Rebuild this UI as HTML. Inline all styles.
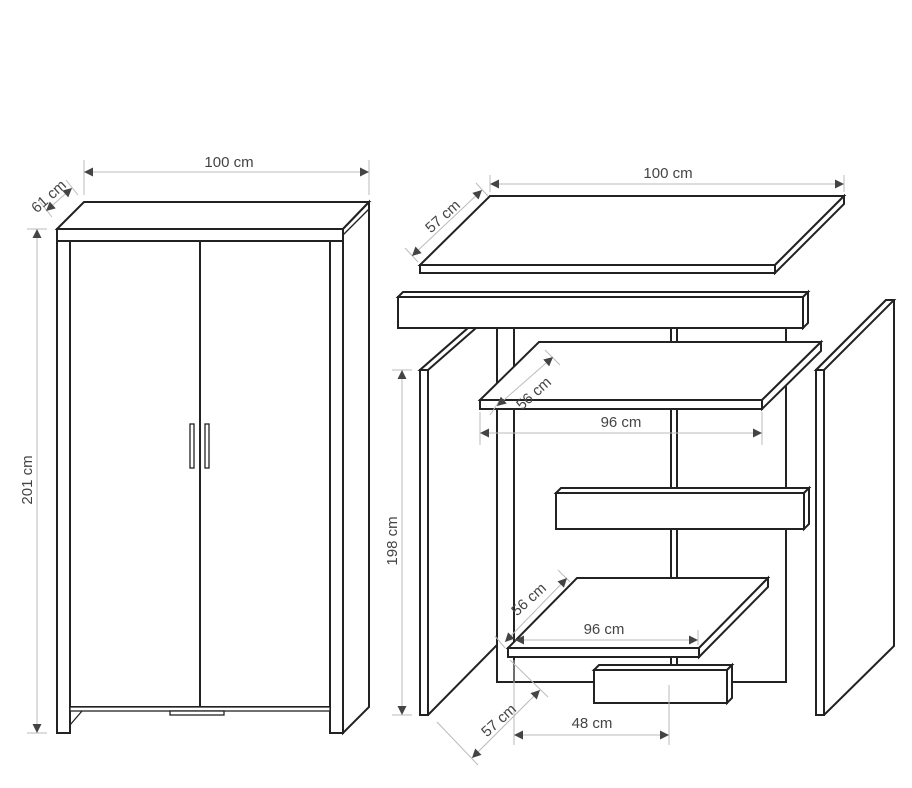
<!DOCTYPE html>
<html><head><meta charset="utf-8"><style>
html,body{margin:0;padding:0;background:#fff;}
svg{display:block;}
text{font-family:"Liberation Sans",Arial,sans-serif;font-size:15px;fill:#444;}
</style></head><body>
<svg width="912" height="788" viewBox="0 0 912 788" xmlns="http://www.w3.org/2000/svg">
<defs>
<marker id="a" viewBox="0 0 10 10" refX="10" refY="5" markerWidth="14" markerHeight="9" markerUnits="userSpaceOnUse" orient="auto-start-reverse">
<path d="M0,0 L10,5 L0,10 z" fill="#444"/></marker>
</defs>
<g fill="#fff" stroke="#222" stroke-width="2" stroke-linejoin="miter">
<!-- LEFT WARDROBE -->
<polygon points="57,229 84,202 369,202 343,229"/>
<polygon points="343,229 369,202 369,707 343,733"/>
<line x1="343" y1="235" x2="369" y2="209" stroke-width="1.3"/>
<rect x="57" y="229" width="286" height="12"/>
<rect x="57" y="241" width="13" height="492"/>
<rect x="330" y="241" width="13" height="492"/>
<rect x="70" y="241" width="260" height="466"/>
<line x1="200" y1="241" x2="200" y2="707"/>
<rect x="70" y="707" width="260" height="4" stroke-width="1.3"/>
<polyline points="70,725 82,711" fill="none" stroke-width="1.3"/>
<rect x="170" y="711" width="54" height="4" stroke-width="1.3"/>
<rect x="190" y="424" width="4" height="44" stroke-width="1.3"/>
<rect x="205" y="424" width="4" height="44" stroke-width="1.3"/>

<!-- RIGHT EXPLODED -->
<!-- back panel -->
<rect x="497" y="328" width="17" height="354"/>
<rect x="514" y="328" width="272" height="354"/>
<rect x="671" y="328" width="6" height="354"/>
<!-- left side panel -->
<polygon points="420,370 468,328 497,328 497,645 428,715 420,715"/>
<polygon points="420,370 468,328 476,328 428,370"/>
<rect x="420" y="370" width="8" height="345"/>
<!-- right side panel -->
<polygon points="816,370 886,300 894,300 894,646 824,715 816,715"/>
<polygon points="816,370 886,300 894,300 824,370"/>
<rect x="816" y="370" width="8" height="345"/>
<!-- top slab -->
<polygon points="420,265 490,196 844,196 775,265"/>
<polygon points="775,265 844,196 844,204 775,273"/>
<rect x="420" y="265" width="355" height="8"/>
<!-- header rail -->
<polygon points="398,297 403,292 808,292 803,297"/>
<polygon points="803,297 808,292 808,323 803,328"/>
<rect x="398" y="297" width="405" height="31"/>
<!-- shelf 1 -->
<polygon points="480,400 539,342 821,342 762,400"/>
<polygon points="762,400 821,342 821,351 762,409"/>
<rect x="480" y="400" width="282" height="9"/>
<!-- shelf 2 box -->
<polygon points="556,493 561,488 809,488 804,493"/>
<polygon points="804,493 809,488 809,524 804,529"/>
<rect x="556" y="493" width="248" height="36"/>
<!-- shelf 3 -->
<polygon points="508,648 577,578 768,578 699,648"/>
<polygon points="699,648 768,578 768,587 699,657"/>
<rect x="508" y="648" width="191" height="9"/>
<!-- drawer -->
<polygon points="594,670 599,665 732,665 727,670"/>
<polygon points="727,670 732,665 732,698 727,703"/>
<rect x="594" y="670" width="133" height="33"/>
</g>

<!-- DIMENSIONS -->
<g stroke="#bbb" stroke-width="1" fill="none">
<line x1="84" y1="160" x2="84" y2="195"/><line x1="369" y1="160" x2="369" y2="195"/>
<line x1="27" y1="229" x2="47" y2="229"/><line x1="27" y1="733" x2="47" y2="733"/>
<line x1="40" y1="202" x2="52" y2="217"/><line x1="66" y1="180" x2="78" y2="195"/>
<line x1="490" y1="175" x2="490" y2="192"/><line x1="844" y1="175" x2="844" y2="192"/>
<line x1="405" y1="248" x2="418" y2="262"/><line x1="476" y1="183" x2="488" y2="196"/>
<line x1="392" y1="370" x2="412" y2="370"/><line x1="392" y1="715" x2="412" y2="715"/>
<line x1="480" y1="412" x2="480" y2="445"/><line x1="762" y1="412" x2="762" y2="445"/>
<line x1="490" y1="415" x2="500" y2="400"/><line x1="545" y1="350" x2="560" y2="365"/>
<line x1="698" y1="630" x2="698" y2="645"/>
<line x1="495" y1="636" x2="505" y2="648"/><line x1="558" y1="570" x2="570" y2="582"/>
<line x1="514" y1="660" x2="514" y2="745"/><line x1="669" y1="685" x2="669" y2="745"/>
<line x1="437" y1="722" x2="478" y2="765"/><line x1="510" y1="660" x2="548" y2="697"/>
</g>
<g stroke="#bbb" stroke-width="1" fill="none" marker-start="url(#a)" marker-end="url(#a)">
<line x1="84" y1="172" x2="369" y2="172"/>
<line x1="37" y1="229" x2="37" y2="733"/>
<line x1="46" y1="211" x2="72" y2="188"/>
<line x1="490" y1="184" x2="844" y2="184"/>
<line x1="412" y1="256" x2="482" y2="190"/>
<line x1="402" y1="370" x2="402" y2="715"/>
<line x1="480" y1="433" x2="762" y2="433"/>
<line x1="497" y1="406" x2="553" y2="357"/>
<line x1="515" y1="640" x2="698" y2="640"/>
<line x1="505" y1="642" x2="567" y2="578"/>
<line x1="514" y1="735" x2="669" y2="735"/>
<line x1="472" y1="758" x2="540" y2="690"/>
</g>
<text x="229" y="167" text-anchor="middle">100 cm</text>
<text x="668" y="178" text-anchor="middle">100 cm</text>
<text x="621" y="427" text-anchor="middle">96 cm</text>
<text x="604" y="634" text-anchor="middle">96 cm</text>
<text x="592" y="728" text-anchor="middle">48 cm</text>
<text transform="translate(32,480) rotate(-90)" text-anchor="middle">201 cm</text>
<text transform="translate(397,541) rotate(-90)" text-anchor="middle">198 cm</text>
<text transform="translate(52,200) rotate(-42)" text-anchor="middle">61 cm</text>
<text transform="translate(446,220) rotate(-42)" text-anchor="middle">57 cm</text>
<text transform="translate(537,397) rotate(-42)" text-anchor="middle">56 cm</text>
<text transform="translate(532,603) rotate(-42)" text-anchor="middle">56 cm</text>
<text transform="translate(502,724) rotate(-42)" text-anchor="middle">57 cm</text>
</svg>
</body></html>
